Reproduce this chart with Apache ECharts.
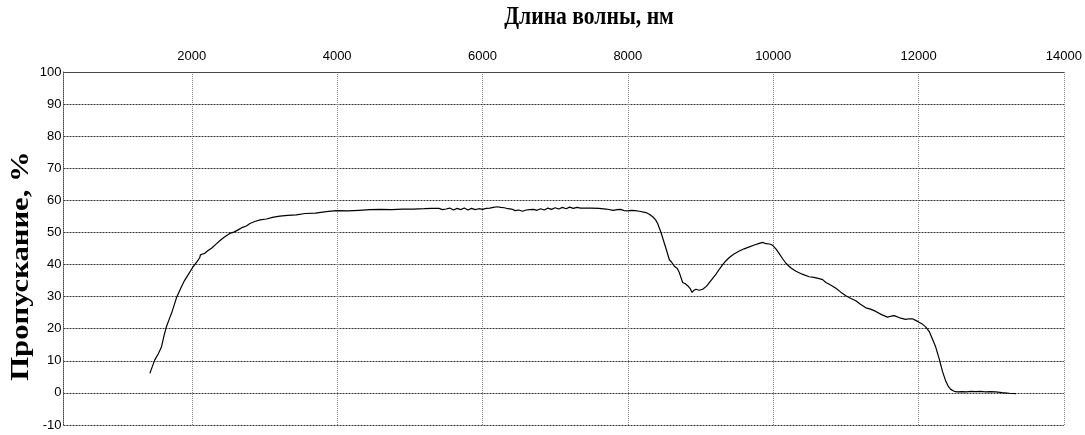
<!DOCTYPE html>
<html><head><meta charset="utf-8">
<script src="https://cdn.jsdelivr.net/npm/echarts@6/dist/echarts.min.js"></script>
<style>html,body{margin:0;padding:0;background:#fff}#c{width:1085px;height:435px}</style>
</head><body><div id="c"></div>
<script>
const wavelength = [1423,1491,1540,1584,1620,1652,1690,1721,1760,1790,1858,1900,1949,2018,2087,2110,2119,2150,2179,2220,2271,2330,2385,2450,2522,2580,2637,2700,2751,2800,2866,2940,3027,3110,3210,3320,3439,3560,3700,3850,3989,4150,4300,4450,4600,4750,4900,5050,5200,5300,5400,5450,5500,5550,5600,5650,5700,5750,5800,5850,5900,5950,6000,6050,6100,6150,6200,6250,6300,6350,6400,6450,6500,6550,6600,6650,6700,6750,6800,6850,6900,6950,7000,7050,7100,7150,7200,7250,7300,7350,7400,7500,7600,7700,7800,7850,7900,7950,8000,8050,8100,8158,8200,8250,8300,8341,8380,8410,8456,8490,8525,8571,8600,8639,8680,8708,8754,8790,8823,8860,8883,8910,8938,8980,9030,9080,9121,9170,9213,9260,9305,9350,9396,9460,9534,9600,9671,9740,9809,9855,9900,9950,9992,10040,10083,10130,10175,10240,10313,10400,10495,10560,10633,10680,10725,10790,10862,10930,10999,11070,11137,11200,11274,11340,11412,11490,11572,11620,11664,11740,11824,11870,11916,11960,12008,12050,12100,12150,12191,12237,12283,12329,12375,12410,12443,12490,12535,12600,12660,12720,12787,12850,12920,12990,13062,13150,13250,13340];
const transmission = [6.1,10.3,12.2,14.4,18.0,20.7,23.0,24.8,27.5,29.7,33.1,35.0,36.8,39.3,41.4,42.2,43.0,43.3,43.5,44.3,45.1,46.3,47.4,48.6,49.7,50.1,50.8,51.6,52.0,52.8,53.4,53.9,54.2,54.7,55.1,55.3,55.5,55.9,56.0,56.5,56.8,56.7,56.9,57.1,57.2,57.1,57.3,57.3,57.4,57.5,57.5,57.1,57.3,57.6,57.0,57.5,57.1,57.6,57.0,57.5,57.1,57.4,57.2,57.5,57.6,57.8,58.0,57.8,57.7,57.4,57.3,56.8,57.0,56.6,57.0,57.1,57.2,56.9,57.4,57.0,57.6,57.2,57.7,57.3,57.8,57.4,57.9,57.5,57.8,57.6,57.6,57.6,57.5,57.3,56.9,57.1,57.2,56.8,56.7,56.9,56.8,56.6,56.4,56.2,55.6,54.9,54.0,52.8,50.0,47.5,45.0,41.5,40.8,39.5,38.8,37.5,34.4,34.0,33.4,32.4,31.3,32.0,32.3,32.0,32.3,33.2,34.4,35.8,37.0,38.6,40.0,41.2,42.2,43.3,44.2,44.9,45.5,46.1,46.6,46.9,46.5,46.4,46.0,44.8,43.4,41.8,40.4,39.0,37.9,37.0,36.2,36.0,35.6,35.3,34.4,33.6,32.6,31.4,30.3,29.4,28.7,27.6,26.5,26.1,25.4,24.4,23.6,23.9,24.1,23.4,22.9,23.1,23.1,22.6,22.0,21.5,20.5,19.0,16.8,14.2,10.7,6.7,3.6,2.0,1.1,0.5,0.3,0.4,0.3,0.5,0.4,0.5,0.3,0.4,0.3,0.1,-0.1,-0.2];
const xTicks = [2000,4000,6000,8000,10000,12000,14000];
const xTitle = 'Длина волны, нм';
const yTitle = 'Пропускание, %';

const data = wavelength.map((w,i)=>[w,transmission[i]]);
const chart = echarts.init(document.getElementById('c'));
const lblFont = {fontFamily:'"Liberation Sans Narrow","Arial Narrow","Liberation Sans",Arial,sans-serif', fontSize:13, color:'#000'};
chart.setOption({
  animation:false,
  grid:{left:63.5, right:20, top:72, bottom:10},
  graphic:[
    {type:'text', x:589, y:17, scaleX:0.94, scaleY:1.1, style:{text:xTitle, font:'bold 23px "Liberation Serif","Times New Roman",serif', fill:'#000', textAlign:'center', textVerticalAlign:'middle'}},
    {type:'text', x:21, y:266, rotation:Math.PI/2, scaleX:1.18, scaleY:1, style:{text:yTitle, font:'bold 26px "Liberation Serif","Times New Roman",serif', fill:'#000', textAlign:'center', textVerticalAlign:'middle'}}
  ],
  xAxis:{type:'value', position:'top', min:235, max:14000,
    axisLine:{show:true, onZero:false, lineStyle:{color:'#444', type:[1,1], width:1}},
    axisTick:{show:false, customValues:xTicks},
    axisLabel:Object.assign({customValues:xTicks, margin:9, formatter:v=>String(v)}, lblFont),
    splitLine:{show:true, lineStyle:{color:'#888', type:[1,1], width:1}}
  },
  yAxis:{type:'value', min:-10, max:100, interval:10,
    axisLine:{show:true, onZero:false, lineStyle:{color:'#444', type:[1,1], width:1}},
    axisTick:{show:false},
    axisLabel:Object.assign({margin:2, formatter:v=>String(v)}, lblFont),
    splitLine:{show:true, lineStyle:{color:'#333', type:[2,1], width:1}}
  },
  series:[{type:'line', data:data, showSymbol:false, symbol:'none', lineStyle:{color:'#000', width:1.2}}]
});
</script></body></html>
